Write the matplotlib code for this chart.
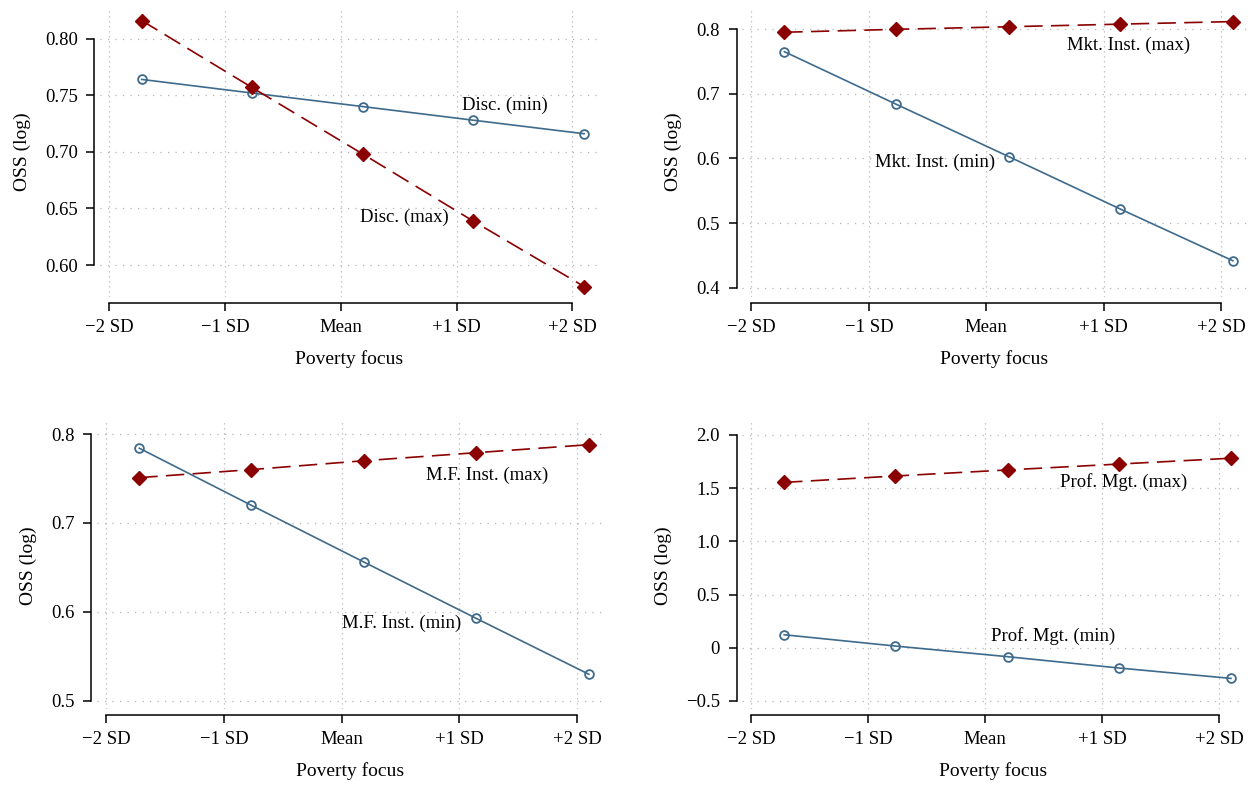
import numpy as np
import matplotlib
matplotlib.use("Agg")
import matplotlib.pyplot as plt

plt.rcParams['font.family'] = ['Liberation Serif', 'DejaVu Serif']
plt.rcParams['font.size'] = 13.5

# poverty focus positions (SD units) and tick labels
x_pts = [-1.72, -0.77, 0.19, 1.14, 2.10]
x_ticks = [-2, -1, 0, 1, 2]
x_ticklabels = ['\u22122 SD', '\u22121 SD', 'Mean', '+1 SD', '+2 SD']

# predicted OSS (log) for each panel
disc_min = [0.764, 0.752, 0.740, 0.728, 0.716]
disc_max = [0.816, 0.757, 0.698, 0.639, 0.581]
mkt_min = [0.765, 0.684, 0.603, 0.522, 0.442]
mkt_max = [0.795, 0.7995, 0.8035, 0.8075, 0.8115]
mf_min = [0.784, 0.720, 0.656, 0.593, 0.530]
mf_max = [0.751, 0.760, 0.770, 0.779, 0.788]
prof_min = [0.122, 0.016, -0.084, -0.19, -0.288]
prof_max = [1.553, 1.613, 1.67, 1.725, 1.78]

y_ticks_tl = [0.60, 0.65, 0.70, 0.75, 0.80]
y_labels_tl = ['0.60', '0.65', '0.70', '0.75', '0.80']
y_ticks_tr = [0.4, 0.5, 0.6, 0.7, 0.8]
y_labels_tr = ['0.4', '0.5', '0.6', '0.7', '0.8']
y_ticks_bl = [0.5, 0.6, 0.7, 0.8]
y_labels_bl = ['0.5', '0.6', '0.7', '0.8']
y_ticks_br = [-0.5, 0, 0.5, 1.0, 1.5, 2.0]
y_labels_br = ['\u22120.5', '0', '0.5', '1.0', '1.5', '2.0']

BLUE = '#3e6a8c'
RED = '#8b0000'

panels = [
    # rect, min series, max series, yticks, ylabels, ylim, (min label, pos), (max label, pos)
    ([0.0799, 0.6221, 0.3977, 0.3690], disc_min, disc_max, y_ticks_tl, y_labels_tl, (0.5717, 0.828),
     ('Disc. (min)', 1.42, 0.7407), ('Disc. (max)', 0.545, 0.6425)),
    ([0.5927, 0.6221, 0.4033, 0.3690], mkt_min, mkt_max, y_ticks_tr, y_labels_tr, (0.386, 0.834),
     ('Mkt. Inst. (min)', -0.436, 0.5946), ('Mkt. Inst. (max)', 1.21, 0.775)),
    ([0.0775, 0.0980, 0.4041, 0.3651], mf_min, mf_max, y_ticks_bl, y_labels_bl, (0.491, 0.8135),
     ('M.F. Inst. (min)', 0.511, 0.5876), ('M.F. Inst. (max)', 1.233, 0.754)),
    ([0.5927, 0.0980, 0.4017, 0.3651], prof_min, prof_max, y_ticks_br, y_labels_br, (-0.575, 2.12),
     ('Prof. Mgt. (min)', 0.578, 0.114), ('Prof. Mgt. (max)', 1.185, 1.559)),
]

fig = plt.figure(figsize=(12.52, 7.86), dpi=100)

for rect, ymin_s, ymax_s, yt, ytl, ylim, lab_min, lab_max in panels:
    ax = fig.add_axes(rect)
    ax.plot(x_pts, ymin_s, color=BLUE, lw=1.2, marker='o', ms=6.3, mfc='none',
            mec=BLUE, mew=1.3, zorder=3)
    ax.plot(x_pts, ymax_s, color=RED, lw=1.2, dashes=(11, 5), marker='D', ms=6.8,
            mfc=RED, mec=RED, zorder=3)
    ax.text(lab_min[1], lab_min[2], lab_min[0], ha='center', va='center')
    ax.text(lab_max[1], lab_max[2], lab_max[0], ha='center', va='center')

    ax.set_xlim(-2.08, 2.22)
    ax.set_ylim(*ylim)
    ax.set_xticks(x_ticks)
    ax.set_xticklabels(x_ticklabels)
    ax.set_yticks(yt)
    ax.set_yticklabels(ytl)

    # dotted grid
    ax.grid(axis='y', color='#b5b5b5', lw=0.9, linestyle=(0, (1, 5)))
    ax.grid(axis='x', color='#b5b5b5', lw=0.9, linestyle=(0, (1, 3)))
    ax.set_axisbelow(True)

    for s in ['top', 'right']:
        ax.spines[s].set_visible(False)
    ax.spines['left'].set_position(('outward', 4))
    ax.spines['bottom'].set_position(('outward', 4))
    ax.spines['left'].set_bounds(yt[0], yt[-1])
    ax.spines['bottom'].set_bounds(x_ticks[0], x_ticks[-1])
    ax.spines['left'].set_linewidth(1.1)
    ax.spines['bottom'].set_linewidth(1.1)
    ax.tick_params(length=6, width=1.1, direction='out', pad=6)

    ax.set_xlabel('Poverty focus', fontsize=14, labelpad=10)
    ax.set_ylabel('OSS (log)', fontsize=14, labelpad=10)

plt.savefig('out.png', dpi=100)
